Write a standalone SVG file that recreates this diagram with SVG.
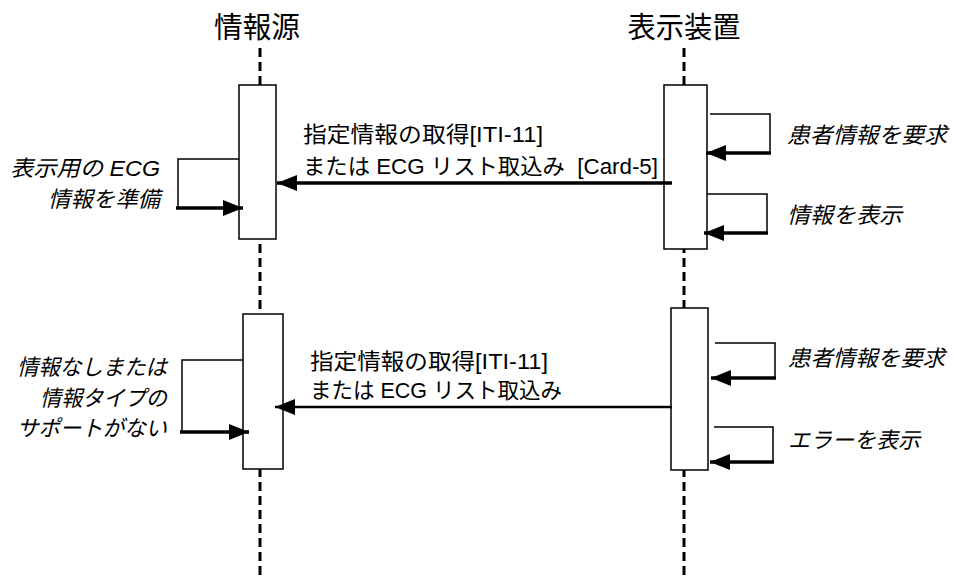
<svg xmlns="http://www.w3.org/2000/svg" width="955" height="579" viewBox="0 0 955 579">
<style>
.t{font-family:"Liberation Sans","Noto Sans CJK JP",sans-serif;font-size:22px;fill:#000}
.h{font-size:29px}
.i{font-style:italic}
.life{stroke:#000;stroke-width:3;stroke-dasharray:9,5;fill:none}
.box{fill:#fff;stroke:#000;stroke-width:1.5}
.thin{fill:none;stroke:#000;stroke-width:1.5}
.thick{fill:none;stroke:#000;stroke-width:3.5}
.msg{fill:none;stroke:#000;stroke-width:3.5}
</style>
<defs>
<marker id="ah" viewBox="0 0 20 16" refX="20" refY="8" markerWidth="20" markerHeight="16" markerUnits="userSpaceOnUse" orient="auto">
<path d="M0,0 L20,8 L0,16 z" fill="#000"/>
</marker>
</defs>
<g id="source">
<text class="t h" x="257" y="38" text-anchor="middle" textLength="86" lengthAdjust="spacingAndGlyphs">情報源</text>
<line class="life" x1="260" y1="48" x2="260" y2="579"/>
<rect class="box" x="239" y="85" width="37" height="154"/>
<rect class="box" x="243" y="314" width="40" height="155"/>
</g>
<g id="display">
<text class="t h" x="684" y="38" text-anchor="middle" textLength="113" lengthAdjust="spacingAndGlyphs">表示装置</text>
<line class="life" x1="684" y1="48" x2="684" y2="579"/>
<rect class="box" x="664" y="85" width="43" height="164"/>
<rect class="box" x="671" y="308" width="37" height="162"/>
</g>
<g id="connectors">
<path class="thin" d="M239,159 H178 V208"/>
<line class="thick" x1="176" y1="208" x2="243" y2="208" marker-end="url(#ah)"/>
<line class="msg" x1="672" y1="183" x2="277" y2="183" marker-end="url(#ah)"/>
<path class="thin" d="M710,114 H770 V153"/>
<line class="thick" x1="771" y1="153" x2="706" y2="153" marker-end="url(#ah)"/>
<path class="thin" d="M707,194 H767 V233"/>
<line class="thick" x1="768" y1="233" x2="704" y2="233" marker-end="url(#ah)"/>
<path class="thin" d="M243,360 H182 V432"/>
<line class="thick" x1="180" y1="432" x2="249" y2="432" marker-end="url(#ah)"/>
<line class="thin" style="stroke-width:2.5" x1="672" y1="407" x2="275" y2="407" marker-end="url(#ah)"/>
<path class="thin" d="M715,343 H775 V378"/>
<line class="thick" x1="776" y1="378" x2="711" y2="378" marker-end="url(#ah)"/>
<path class="thin" d="M714,427 H773 V462"/>
<line class="thick" x1="774" y1="462" x2="710" y2="462" marker-end="url(#ah)"/>
</g>
<g id="labels">
<text class="t i" x="160" y="176" text-anchor="end" textLength="150" lengthAdjust="spacingAndGlyphs">表示用の ECG</text>
<text class="t i" x="160" y="207" text-anchor="end" textLength="112" lengthAdjust="spacingAndGlyphs">情報を準備</text>
<text class="t" x="303" y="142" textLength="240" lengthAdjust="spacingAndGlyphs">指定情報の取得[ITI-11]</text>
<text class="t" x="303" y="174" textLength="355" lengthAdjust="spacingAndGlyphs" xml:space="preserve">または ECG リスト取込み  [Card-5]</text>
<text class="t i" x="787" y="143" textLength="160" lengthAdjust="spacingAndGlyphs">患者情報を要求</text>
<text class="t i" x="787" y="223" textLength="115" lengthAdjust="spacingAndGlyphs">情報を表示</text>
<text class="t i" x="167" y="375" text-anchor="end" textLength="150" lengthAdjust="spacingAndGlyphs">情報なしまたは</text>
<text class="t i" x="167" y="406" text-anchor="end" textLength="127" lengthAdjust="spacingAndGlyphs">情報タイプの</text>
<text class="t i" x="167" y="436" text-anchor="end" textLength="150" lengthAdjust="spacingAndGlyphs">サポートがない</text>
<text class="t" x="310" y="369" textLength="238" lengthAdjust="spacingAndGlyphs">指定情報の取得[ITI-11]</text>
<text class="t" x="310" y="398" textLength="252" lengthAdjust="spacingAndGlyphs">または ECG リスト取込み</text>
<text class="t i" x="788" y="366" textLength="157" lengthAdjust="spacingAndGlyphs">患者情報を要求</text>
<text class="t i" x="788" y="448" textLength="132" lengthAdjust="spacingAndGlyphs">エラーを表示</text>
</g>
</svg>
